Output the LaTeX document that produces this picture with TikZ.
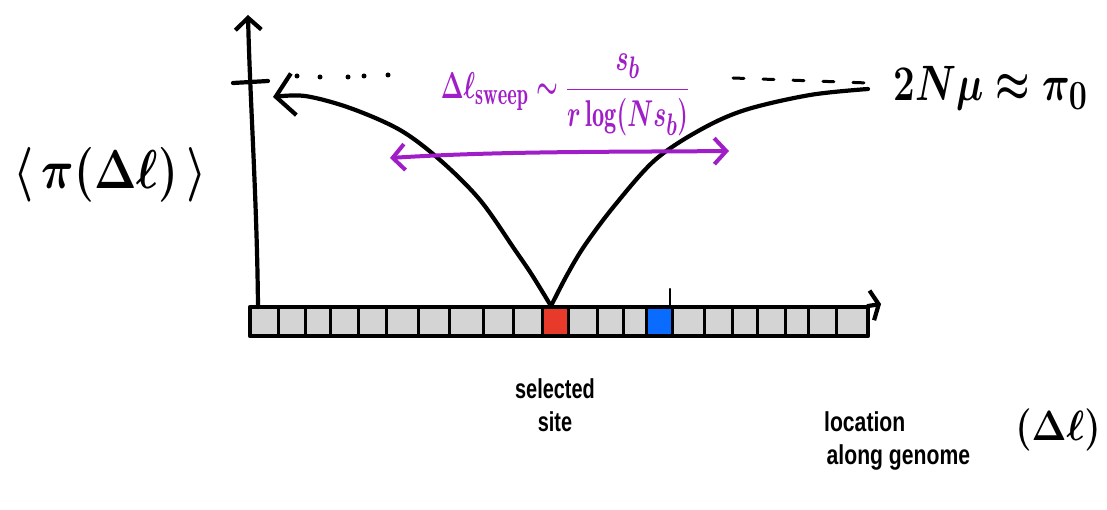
\documentclass[tikz,border=0pt]{standalone}
\usepackage{fontspec}
\setsansfont{Liberation Sans}
\usetikzlibrary{arrows.meta}
\definecolor{sweep}{RGB}{160,30,200}
\definecolor{gridgray}{RGB}{212,212,212}
\definecolor{selred}{RGB}{232,58,42}
\definecolor{neutblue}{RGB}{10,108,255}
\begin{document}
\begin{tikzpicture}[x=1pt,y=-1pt, line cap=round, line join=round,
  ink/.style={line width=4.2pt, black},
  thin ink/.style={line width=3pt, black},
  lbl/.style={inner sep=0pt}]
\useasboundingbox (0,0) rectangle (1107,510);

% genome bar
\fill[gridgray] (250,307) rectangle (868,336);
\fill[selred] (542,307) rectangle (568,336);
\fill[neutblue] (646,307) rectangle (672,336);
\foreach \x in {278,305,330,358,386,418,449,483,513,542,568,597,623,646,672,704,732,757,785,808,836}
  \draw[thin ink] (\x,307) -- (\x,336);
\draw[ink] (250,307) rectangle (868,336);
\coordinate (barNE) at (868,306);
\coordinate (xend) at (881,304);
\draw[ink, -{Straight Barb[length=7pt, width=30pt]}] (barNE) -- (xend);
\draw[line width=2.4pt] (670,289) -- (670,307);

% y axis
\coordinate (origin) at (258,307);
\coordinate (ytop) at (248,15);
\draw[ink, -{Straight Barb[length=12pt, width=26pt]}] (origin) .. controls (257,200) and (250,100) .. (ytop);
\draw[ink] (233,83) -- (268,81);

% dotted guide left
\foreach \p in {(297,76),(320,77),(348,77),(364,76),(388,75)}
  \fill \p circle (2.5pt);
% dashed guide right
\draw[line width=3pt, dash pattern=on 11pt off 19pt] (733,78) -- (868,83);

% curves
\coordinate (vee) at (551,306);
\coordinate (pimax) at (273,97);
\coordinate (rightend) at (868,89);
\draw[ink, -{Straight Barb[length=18pt, width=42pt]}] plot[smooth, tension=0.55] coordinates
  {(551,306) (532,275) (515,250) (480,200) (440,160) (400,130) (350,108) (305,96) (273,97)};
\draw[ink] plot[smooth, tension=0.55] coordinates
  {(551,306) (567,275) (585,245) (615,205) (655,160) (700,130) (745,110) (810,95) (868,89)};

% labels
\node[lbl, anchor=west, font=\Huge\boldmath, xscale=1.55, yscale=2.0] (eqpi) at (893,88) {$2N\mu\approx\pi_0$};
\node[lbl, font=\Huge\boldmath, xscale=1.82, yscale=2.2] (ylabel) at (110,175) {$\langle\,\pi(\Delta\ell)\,\rangle$};
\node[lbl, text=sweep, font=\Huge\boldmath, xscale=0.98, yscale=1.5] (sweeplab) at (565,95)
  {$\displaystyle\Delta\ell_{\mathrm{sweep}}\sim\frac{s_b}{r\log(Ns_b)}$};
\coordinate (swL) at (390,158);
\coordinate (swR) at (729,151);
\draw[sweep, line width=4pt, {Straight Barb[length=12pt, width=26pt]}-{Straight Barb[length=12pt, width=26pt]}]
  (swL) .. controls (500,151) and (620,152) .. (swR);

\node[lbl, align=center, font=\sffamily\bfseries\Huge, xscale=0.8, yscale=1.1] (selsite) at (555,405) {selected\\site};
\node[lbl, anchor=north west, align=left, font=\sffamily\bfseries\Huge, xscale=0.85, yscale=1.1] (loclab) at (824,411) {location\\\hspace*{3pt}along genome};
\node[lbl, font=\Huge\boldmath, xscale=1.5, yscale=1.7] (dl) at (1058,430) {$(\Delta\ell)$};
\end{tikzpicture}
\end{document}
